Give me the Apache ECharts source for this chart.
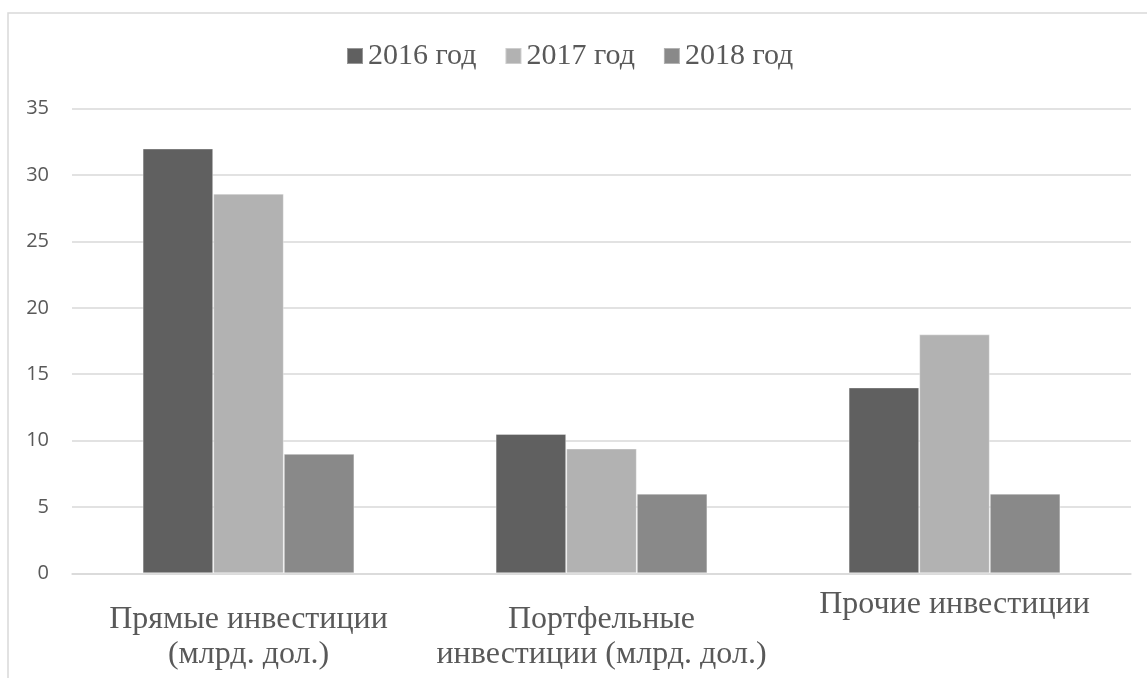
<!DOCTYPE html>
<html>
<head>
<meta charset="utf-8">
<script src="https://cdn.jsdelivr.net/npm/echarts@6/dist/echarts.min.js"></script>
<style>
html,body{margin:0;padding:0;background:#fff;}
#c{width:1147px;height:678px;}
</style>
</head>
<body>
<div id="c"></div>
<script>
const categories = ['Прямые инвестиции\n(млрд. дол.)', 'Портфельные\nинвестиции (млрд. дол.)', 'Прочие инвестиции'];
const seriesNames = ['2016 год', '2017 год', '2018 год'];
const values2016 = [32, 10.5, 14];
const values2017 = [28.6, 9.4, 18];
const values2018 = [9, 6, 6];
const yTicks = [0, 5, 10, 15, 20, 25, 30, 35];
const colors = ['#606060', '#b2b2b2', '#898989'];

const chart = echarts.init(document.getElementById('c'));
const serif = '"Liberation Serif", "Times New Roman", serif';
const catData = categories.map(function (c) {
  const oneLine = c.indexOf('\n') < 0;
  return oneLine ? { value: c, textStyle: { lineHeight: 5 } } : c;
});
chart.setOption({
  animation: false,
  backgroundColor: '#fff',
  color: colors,
  graphic: [{
    type: 'rect', silent: true, z: -1,
    shape: { x: 8, y: 13, width: 1300, height: 900 },
    style: { fill: 'none', stroke: '#d9d9d9', lineWidth: 1.5 }
  }],
  legend: {
    top: 41, left: 346, padding: 0,
    itemWidth: 16, itemHeight: 16, itemGap: 28,
    icon: 'rect',
    textStyle: { fontFamily: serif, fontSize: 30, color: '#595959' },
    data: seriesNames
  },
  grid: { left: 72, right: 16, top: 108.7, bottom: 104.7, containLabel: false },
  xAxis: {
    type: 'category',
    data: catData,
    axisLine: { lineStyle: { color: '#d9d9d9', width: 1.5 } },
    axisTick: { show: false },
    axisLabel: { fontFamily: serif, fontSize: 32, color: '#595959', lineHeight: 35, margin: 29, interval: 0 }
  },
  yAxis: {
    type: 'value', min: yTicks[0], max: yTicks[yTicks.length - 1], interval: 5,
    axisLine: { show: false }, axisTick: { show: false },
    splitLine: { lineStyle: { color: '#d9d9d9', width: 1.5 } },
    axisLabel: { fontFamily: '"Open Sans", sans-serif', fontSize: 20, color: '#595959', margin: 23 }
  },
  series: [
    { name: seriesNames[0], type: 'bar', data: values2016, barGap: '0%', barCategoryGap: '40%', itemStyle: { borderColor: 'rgba(255,255,255,0.35)', borderWidth: 1 } },
    { name: seriesNames[1], type: 'bar', data: values2017, barGap: '0%', barCategoryGap: '40%', itemStyle: { borderColor: 'rgba(255,255,255,0.35)', borderWidth: 1 } },
    { name: seriesNames[2], type: 'bar', data: values2018, barGap: '0%', barCategoryGap: '40%', itemStyle: { borderColor: 'rgba(255,255,255,0.35)', borderWidth: 1 } }
  ]
});
</script>
</body>
</html>
